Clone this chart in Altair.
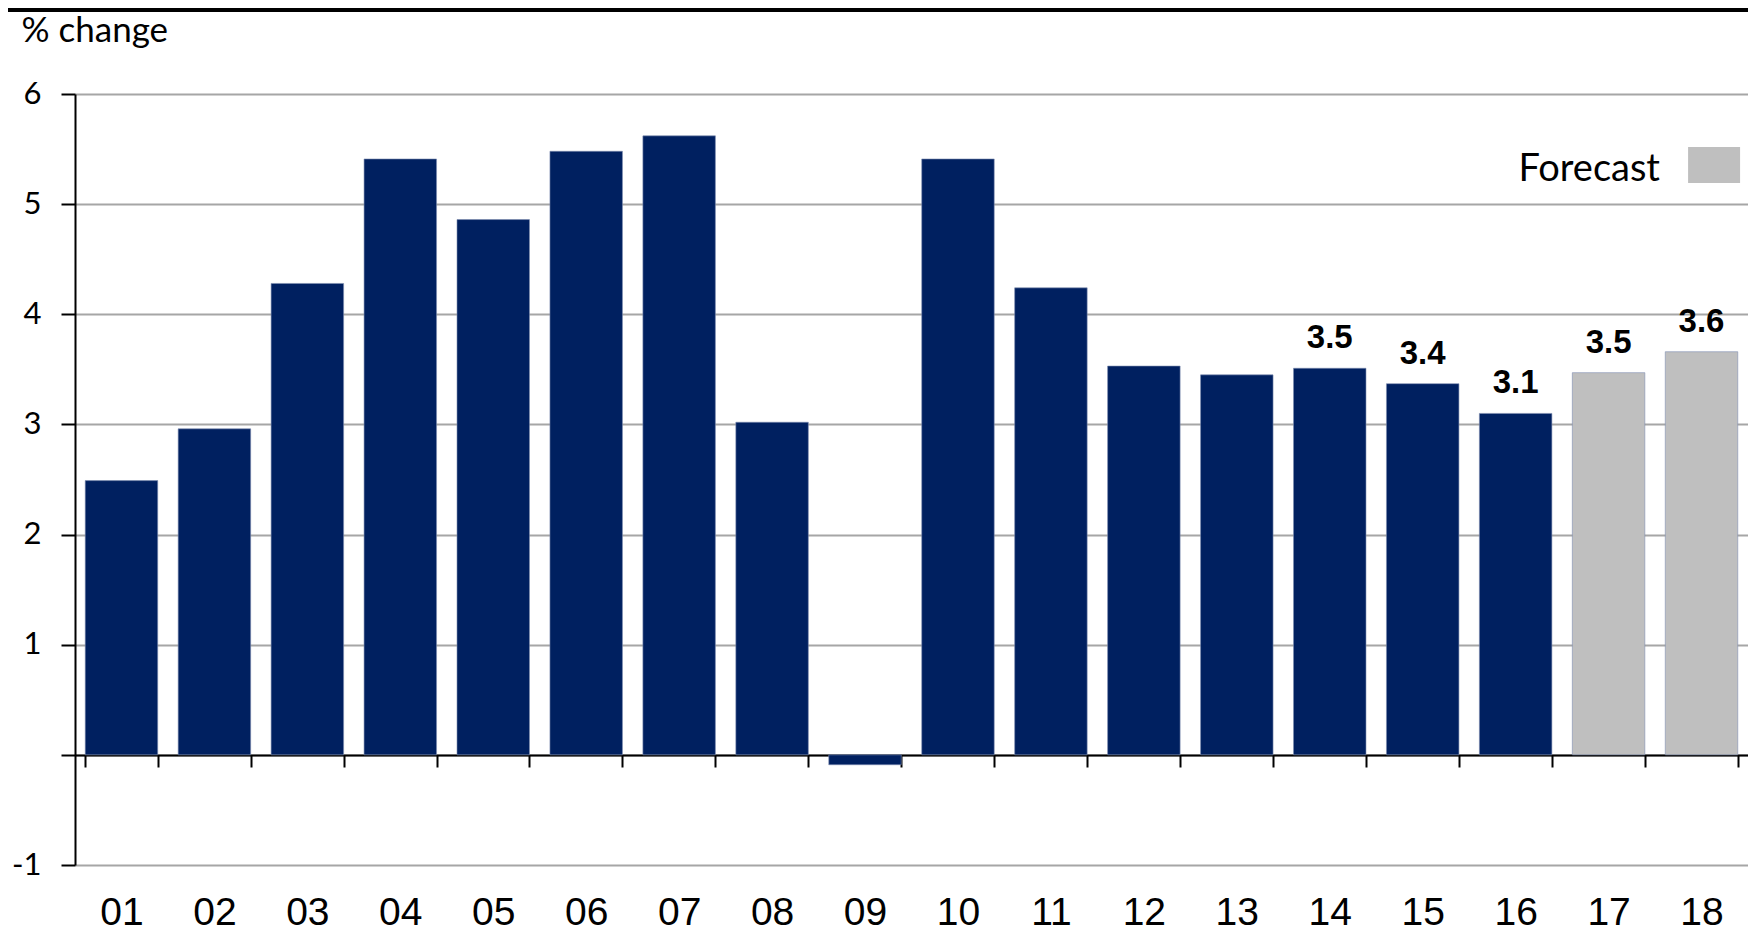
import altair as alt
import pandas as pd

years = ["01", "02", "03", "04", "05", "06", "07", "08", "09",
         "10", "11", "12", "13", "14", "15", "16", "17", "18"]
growth = [2.49, 2.96, 4.28, 5.41, 4.86, 5.48, 5.62, 3.02, -0.09,
          5.41, 4.24, 3.53, 3.45, 3.51, 3.37, 3.10, 3.47, 3.66]
kind = ["Actual"] * 16 + ["Forecast"] * 2
labels = [""] * 13 + ["3.5", "3.4", "3.1", "3.5", "3.6"]

df = pd.DataFrame({"year": years, "growth": growth, "kind": kind, "label": labels})

W, H = 1673, 771

x = alt.X(
    "year:N",
    sort=years,
    scale=alt.Scale(paddingInner=0.22, paddingOuter=0.11),
    axis=alt.Axis(
        title=None, orient="bottom", offset=-110, labelAngle=0,
        domainColor="black", domainWidth=2,
        tickBand="extent", tickColor="black", tickWidth=2, tickSize=12,
        labelFont="Liberation Sans Narrow, Liberation Sans", labelFontSize=39,
        labelColor="black", labelPadding=126, labelBaseline="top", grid=False,
    ),
)

y = alt.Y(
    "growth:Q",
    scale=alt.Scale(domain=[-1, 6], nice=False, zero=False),
    axis=alt.Axis(
        title="% change", titleAngle=0, titleAlign="left", titleBaseline="alphabetic",
        titleX=-54, titleY=-53, titleFont="Lato", titleFontSize=35,
        titleFontWeight="normal", titleColor="black",
        values=[-1, 0, 1, 2, 3, 4, 5, 6],
        labelExpr="datum.value == 0 ? '' : '' + datum.value",
        labelFont="Lato", labelFontSize=31, labelColor="black", labelPadding=20,
        domainColor="black", domainWidth=2,
        tickColor="black", tickWidth=2, tickSize=14,
        grid=True, gridColor="#A6A6A6", gridWidth=2,
    ),
)

bars = alt.Chart(df).mark_bar(stroke="#7d8db0", strokeWidth=0.6).encode(
    x=x,
    y=y,
    y2=alt.datum(0),
    color=alt.Color(
        "kind:N",
        scale=alt.Scale(domain=["Actual", "Forecast"], range=["#002060", "#BFBFBF"]),
        legend=alt.Legend(
            values=["Forecast"], title=None, orient="none",
            legendX=1533, legendY=50, padding=0,
            symbolType="M2.08,-0.88H4.08V0.5H2.08Z", symbolSize=2704,
            symbolStrokeWidth=0, symbolOpacity=1,
            labelAlign="right", labelOffset=0,
            labelFont="Lato", labelFontSize=38, labelColor="black",
        ),
    ),
)

text = alt.Chart(df).mark_text(
    baseline="alphabetic", dy=-20, font="Liberation Sans",
    fontSize=33, fontWeight="bold", color="black",
).encode(x=alt.X("year:N", sort=years), y=alt.Y("growth:Q"), text="label:N")

top_rule = alt.Chart(df).mark_rule(color="black", strokeWidth=4).encode(
    x=alt.value(-67), x2=alt.value(W + 10), y=alt.value(-84)
)

chart = alt.layer(bars, text, top_rule).properties(
    width=W, height=H,
    autosize=alt.AutoSizeParams(type="none"),
    padding={"left": 67, "top": 86, "right": 0, "bottom": 66},
).configure_view(stroke=None)

chart.save("out.html", embed_options={"renderer": "svg", "actions": False})
